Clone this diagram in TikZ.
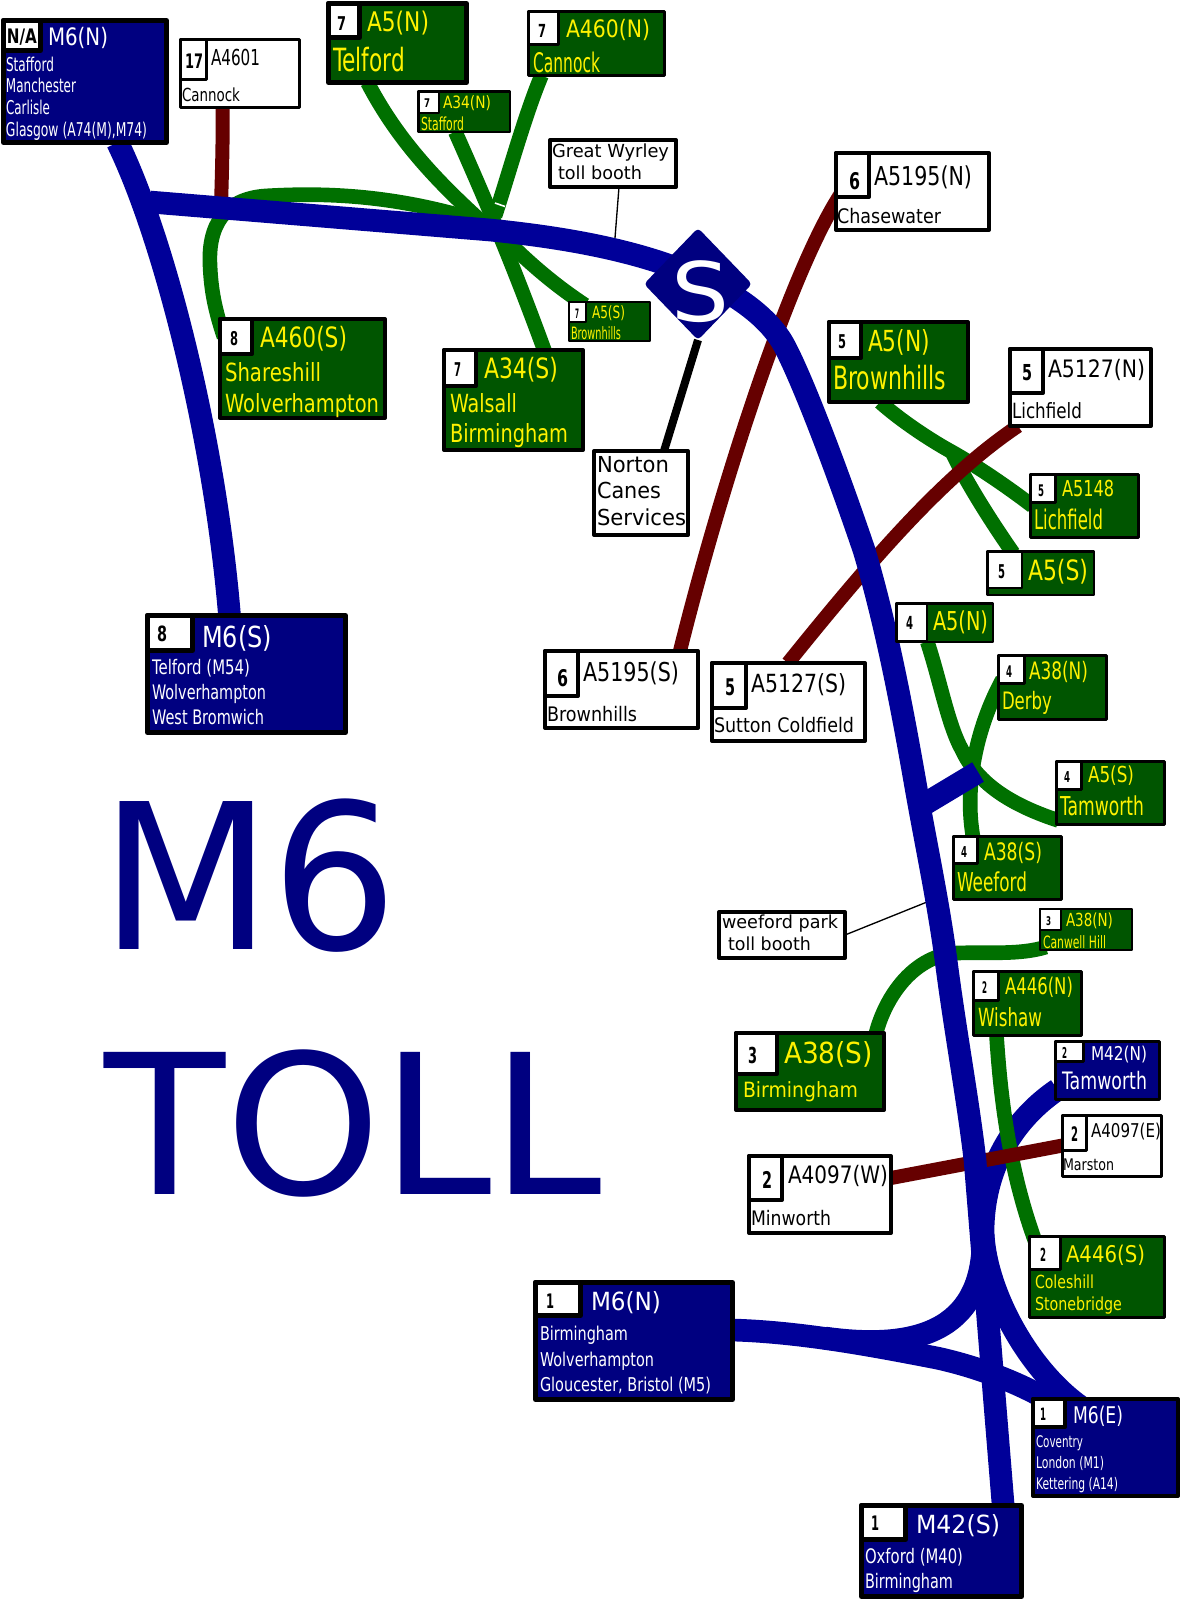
\documentclass[tikz,border=0pt]{standalone}
\usepackage{fontspec}
\usepackage{graphicx}
\setmainfont{DejaVu Sans}
\usetikzlibrary{shapes.geometric}
\pgfdeclarelayer{bg}
\pgfsetlayers{bg,main}
\definecolor{mblue}{HTML}{000080}
\definecolor{rblue}{HTML}{000099}
\definecolor{mgreen}{HTML}{005500}
\definecolor{rgreen}{HTML}{007000}
\definecolor{rbrown}{HTML}{660000}
\newdimen\pxu \pxu=.75pt
\newcounter{tc}
\tikzset{
  lbl/.style={anchor=base west,inner sep=0pt,outer sep=0pt},
  signbox/.style={anchor=north west,inner sep=0pt,outer sep=0pt,draw=black,line join=round},
  motorway/.style={line width=17pt,draw=rblue},
  aroad/.style={line width=11pt,draw=rgreen},
  broad/.style={line width=10.5pt,draw=rbrown},
  leader/.style={line width=1pt,draw=black}
}
\newcommand\T[6]{\stepcounter{tc}\pgfmathsetmacro\fs{#3*.75}\node[lbl,text=#5] (t\arabic{tc}) at (#1,#2) {\fontsize{\fs}{\fs}\selectfont\resizebox{#4\pxu}{\height}{#6}};}
\newcommand\N[5]{\T{#1}{#2}{#3}{#4}{black}{\bfseries #5}}
\newcommand\Sign[9]{\pgfmathsetmacro\bw{#7}%
  \node[signbox,fill=#6,line width=\bw*.75pt,minimum width={(#4-#2-\bw)*.75pt},minimum height={(#5-#3-\bw)*.75pt}] (#1) at ({#2+\bw/2},{#3+\bw/2}) {};
  \node[signbox,fill=white,line width=\bw*.75pt,minimum width={(#8-#2-\bw)*.75pt},minimum height={(#9-#3-\bw)*.75pt}] (#1-n) at ({#2+\bw/2},{#3+\bw/2}) {};}
\newcommand\Plain[6]{\pgfmathsetmacro\bw{#6}%
  \node[signbox,fill=white,line width=\bw*.75pt,minimum width={(#4-#2-\bw)*.75pt},minimum height={(#5-#3-\bw)*.75pt}] (#1) at ({#2+\bw/2},{#3+\bw/2}) {};}
\begin{document}
\begin{tikzpicture}[x=.75pt,y=-.75pt]
\useasboundingbox (0,0) rectangle (1180,1600);

% ---- signs ----
\Sign{sMsixN}{1}{18}{169}{145}{mblue}{5}{43}{53}
\Sign{sAfoursix}{179}{38}{301}{109}{white}{3}{208}{81}
\Sign{sTelford}{326}{1}{469}{85}{mgreen}{5}{362}{40}
\Sign{sCannock}{527}{10}{666}{77}{mgreen}{3}{560}{46}
\Sign{sStafford}{417}{90}{511}{133}{mgreen}{2.5}{440}{114}
\Plain{sWyrley}{548}{138}{678}{189}{4}
\Sign{sShare}{218}{317}{387}{420}{mgreen}{4}{254}{356}
\Sign{sWalsall}{442}{348}{585}{452}{mgreen}{4}{478}{388}
\Sign{sBrownS}{568}{301}{651}{342}{mgreen}{2}{587}{323}
\Sign{sChaseN}{834}{151}{991}{232}{white}{4}{871}{199}
\Sign{sBrownN}{827}{320}{970}{404}{mgreen}{4}{863}{360}
\Sign{sLichN}{1008}{347}{1153}{428}{white}{4}{1045}{395}
\Sign{sLichG}{1029}{473}{1140}{539}{mgreen}{3}{1057}{504}
\Sign{sAfiveS}{986}{550}{1095}{596}{mgreen}{2.5}{1023}{589}
\Sign{sFourA}{895}{602}{994}{643}{mgreen}{2.5}{928}{642}
\Sign{sDerby}{997}{654}{1108}{721}{mgreen}{3}{1026}{685}
\Sign{sTam}{1055}{760}{1166}{826}{mgreen}{3}{1083}{791}
\Sign{sSutton}{710}{661}{867}{743}{white}{4}{748}{710}
\Sign{sChaseS}{543}{649}{700}{730}{white}{4}{580}{698}
\Plain{sNorton}{592}{449}{690}{537}{4}
\Sign{sMsixS}{145}{613}{348}{735}{mblue}{5}{195}{653}
\Sign{sWeeford}{952}{835}{1063}{901}{mgreen}{3}{979}{865}
\Plain{sPark}{717}{910}{847}{960}{4}
\Sign{sCanwell}{1039}{908}{1133}{951}{mgreen}{2}{1062}{931}
\Sign{sWishaw}{972}{970}{1083}{1037}{mgreen}{3}{1000}{1002}
\Sign{sMftwoN}{1054}{1040}{1161}{1101}{mblue}{3}{1085}{1063}
\Sign{sBham}{734}{1031}{886}{1112}{mgreen}{4}{779}{1076}
\Sign{sMarston}{1061}{1114}{1163}{1178}{white}{3}{1088}{1152}
\Sign{sMinworth}{747}{1154}{893}{1235}{white}{4}{784}{1202}
\Sign{sColes}{1028}{1235}{1166}{1319}{mgreen}{3}{1062}{1271}
\Sign{sMsixB}{533}{1280}{735}{1402}{mblue}{5}{583}{1318}
\Sign{sMsixE}{1031}{1397}{1180}{1498}{mblue}{4}{1067}{1429}
\Sign{sMftwoS}{859}{1503}{1024}{1599}{mblue}{5}{908}{1542}

% ---- junction diamond ----
\node[diamond,aspect=.965,fill=mblue,inner sep=0pt,outer sep=0pt,minimum width=81pt,minimum height=84pt,rounded corners=3pt] (dia) at (698,284) {};
\T{671}{321}{82}{58}{white}{S}

% ---- named free ends ----
\coordinate (jviii) at (150,202);
\coordinate (hub) at (482,222);
\coordinate (hubs) at (495,228);
\coordinate (hubn) at (495,216);
\coordinate (jfive) at (952,452);
\coordinate (joinA) at (825,1338);
\coordinate (joinB) at (983,1235);
\coordinate (stubA) at (918,808);
\coordinate (stubB) at (978,772);
\coordinate (boothA) at (615,238);
\coordinate (boothB) at (927,902);
\coordinate (sliverA) at (495,203);
\coordinate (sliverB) at (505,206.5);

\begin{pgfonlayer}{bg}
% motorway branches below the green roads
\draw[motorway] ([shift={(2,19)}]sMftwoN.west) .. controls (1020,1115) and (984,1160) .. (983,1230) .. controls (984,1290) and (1030,1375) .. ([shift={(54,12)}]sMsixE.north west);
\draw[motorway] ([shift={(0,-11)}]sMsixB.east) .. controls (800,1332) and (870,1345) .. (937,1358) .. controls (965,1364) and (1020,1380) .. ([shift={(31,11)}]sMsixE.north west);
\draw[motorway] (joinA) .. controls (925,1352) and (985,1325) .. (joinB);
% green
\draw[aroad] ([shift={(39,0)}]sTelford.south west) .. controls (395,135) and (430,175) .. (hub);
\draw[aroad] ([shift={(37,0)}]sStafford.south west) .. controls (490,210) and (515,270) .. ([shift={(101,2)}]sWalsall.north west);
\draw[aroad] ([shift={(13,0)}]sCannock.south west) .. controls (525,115) and (510,170) .. (hubn);
\draw[aroad] (hub) .. controls (400,196) and (330,192) .. (265,196) .. controls (225,199) and (208,225) .. (210,265) .. controls (211,290) and (215,310) .. ([shift={(4,18)}]sShare.north west);
\draw[aroad] (hubs) .. controls (520,255) and (550,282) .. ([shift={(16,3)}]sBrownS.north west);
\draw[aroad] ([shift={(51,0)}]sBrownN.south west) .. controls (900,420) and (930,440) .. (jfive) .. controls (975,465) and (1005,485) .. ([shift={(2,0)}]sLichG.west);
\draw[aroad] (jfive) .. controls (965,480) and (990,520) .. ([shift={(26,2)}]sAfiveS.north west);
\draw[aroad] ([shift={(31,0)}]sFourA.south west) .. controls (940,680) and (948,725) .. (962,750) .. controls (976,780) and (1005,803) .. ([shift={(2,-4)}]sTam.south west);
\draw[aroad] ([shift={(4,-8)}]sDerby.west) .. controls (975,730) and (964,790) .. ([shift={(20,3)}]sWeeford.north west);
\draw[aroad] ([shift={(6,-3)}]sCanwell.south west) .. controls (1020,955) and (990,952) .. (957,953) .. controls (915,955) and (885,995) .. ([shift={(139,4)}]sBham.north west);
\draw[aroad] ([shift={(23,0)}]sWishaw.south west) .. controls (1000,1090) and (1008,1170) .. ([shift={(8,11)}]sColes.north west);
\draw[white,line width=1.2pt] (sliverA) -- (sliverB);
% brown
\draw[broad] ([shift={(42,0)}]sAfoursix.south west) .. controls (223,140) and (222,170) .. (221,207);
\draw[broad] ([shift={(6,-38)}]sChaseN.south west) .. controls (790,270) and (720,490) .. ([shift={(135,0)}]sChaseS.north west);
\draw[broad] ([shift={(8,0)}]sLichN.south west) .. controls (945,475) and (875,555) .. ([shift={(76,0)}]sSutton.north west);
\draw[broad] ([shift={(0,22)}]sMinworth.north east) -- ([shift={(0,30)}]sMarston.north west);
% leaders and services
\draw[leader] ([shift={(69,0)}]sWyrley.south west) -- (boothA);
\draw[leader] (sPark.east) -- (boothB);
\draw[line width=6pt,draw=black] (dia.south) -- ([shift={(70,0)}]sNorton.north west);
% main line
\draw[motorway] ([shift={(114,0)}]sMsixN.south west) .. controls (165,240) and (215,440) .. ([shift={(-17,0)}]sMsixS.north);
\draw[motorway] (jviii) -- (490,230) .. controls (560,237) and (640,250) .. (700,278) .. controls (735,294) and (765,315) .. (781,340) .. controls (795,362) and (830,450) .. (864,550) .. controls (888,630) and (905,725) .. (915,782) .. controls (925,840) and (938,900) .. (946,960) .. controls (955,1030) and (968,1100) .. (975,1160) -- ([shift={(62,4)}]sMftwoS.north);
\draw[motorway] (stubA) -- (stubB);
\end{pgfonlayer}

% ---- texts ----
\N{7}{43}{20}{30}{N/A}
\T{48}{45}{24}{60}{white}{M6(N)}
\T{6}{71}{19}{48}{white}{Stafford}
\T{6}{92}{19}{70}{white}{Manchester}
\T{6}{114}{19}{44}{white}{Carlisle}
\T{6}{136}{19}{141}{white}{Glasgow (A74(M),M74)}
\N{185}{68}{20}{18}{17}
\T{211}{65}{22}{49}{black}{A4601}
\T{182}{101}{18}{58}{black}{Cannock}
\N{337}{30}{19}{9}{7}
\T{367}{31}{27}{62}{yellow}{A5(N)}
\T{333}{71}{32}{72}{yellow}{Telford}
\N{538}{37}{18}{8}{7}
\T{566}{37}{24}{84}{yellow}{A460(N)}
\T{533}{72}{27}{67}{yellow}{Cannock}
\N{424}{107}{12}{6}{7}
\T{443}{108}{17}{48}{yellow}{A34(N)}
\T{421}{130}{18}{43}{yellow}{Stafford}
\T{552}{157}{18}{117}{black}{Great Wyrley}
\T{558}{179}{18}{84}{black}{toll booth}
\N{230}{345}{19}{8}{8}
\T{260}{347}{28}{87}{yellow}{A460(S)}
\T{225}{381}{25}{96}{yellow}{Shareshill}
\T{225}{412}{25}{154}{yellow}{Wolverhampton}
\N{454}{376}{19}{7}{7}
\T{484}{378}{28}{74}{yellow}{A34(S)}
\T{450}{412}{25}{67}{yellow}{Walsall}
\T{450}{442}{25}{118}{yellow}{Birmingham}
\N{575}{318}{13}{4}{7}
\T{592}{318}{17}{33}{yellow}{A5(S)}
\T{571}{339}{17}{50}{yellow}{Brownhills}
\N{849}{189}{23}{11}{6}
\T{874}{185}{26}{98}{black}{A5195(N)}
\T{837}{223}{20}{104}{black}{Chasewater}
\N{838}{348}{19}{8}{5}
\T{868}{351}{29}{62}{yellow}{A5(N)}
\T{833}{389}{32}{113}{yellow}{Brownhills}
\N{1022}{380}{22}{10}{5}
\T{1048}{377}{24}{97}{black}{A5127(N)}
\T{1012}{418}{21}{70}{black}{Lichfield}
\N{1038}{496}{16}{6}{5}
\T{1062}{496}{22}{52}{yellow}{A5148}
\T{1034}{529}{27}{69}{yellow}{Lichfield}
\N{998}{578}{19}{7}{5}
\T{1028}{580}{28}{60}{yellow}{A5(S)}
\N{906}{629}{18}{7}{4}
\T{933}{630}{26}{55}{yellow}{A5(N)}
\N{1006}{677}{16}{6}{4}
\T{1029}{679}{24}{59}{yellow}{A38(N)}
\T{1002}{709}{24}{50}{yellow}{Derby}
\N{1064}{782}{15}{6}{4}
\T{1088}{782}{22}{46}{yellow}{A5(S)}
\T{1060}{815}{26}{84}{yellow}{Tamworth}
\N{725}{695}{23}{10}{5}
\T{751}{692}{25}{95}{black}{A5127(S)}
\T{714}{732}{20}{140}{black}{Sutton Coldfield}
\N{557}{686}{23}{11}{6}
\T{583}{681}{26}{96}{black}{A5195(S)}
\T{547}{721}{20}{90}{black}{Brownhills}
\T{597}{472}{22}{72}{black}{Norton}
\T{597}{498}{22}{64}{black}{Canes}
\T{597}{525}{22}{89}{black}{Services}
\N{157}{641}{21}{10}{8}
\T{202}{647}{29}{70}{white}{M6(S)}
\T{152}{674}{20}{98}{white}{Telford (M54)}
\T{152}{699}{20}{114}{white}{Wolverhampton}
\T{152}{724}{20}{112}{white}{West Bromwich}
\N{961}{857}{15}{6}{4}
\T{984}{860}{24}{58}{yellow}{A38(S)}
\T{957}{891}{26}{70}{yellow}{Weeford}
\T{722}{928}{18}{116}{black}{weeford park}
\T{728}{950}{18}{83}{black}{toll booth}
\N{1046}{925}{12}{5}{3}
\T{1066}{926}{18}{47}{yellow}{A38(N)}
\T{1043}{948}{17}{63}{yellow}{Canwell Hill}
\N{982}{993}{16}{5}{2}
\T{1005}{994}{23}{68}{yellow}{A446(N)}
\T{978}{1026}{25}{64}{yellow}{Wishaw}
\N{1062}{1058}{15}{5}{2}
\T{1091}{1060}{19}{56}{white}{M42(N)}
\T{1062}{1089}{24}{85}{white}{Tamworth}
\N{748}{1063}{22}{9}{3}
\T{784}{1063}{29}{89}{yellow}{A38(S)}
\T{743}{1097}{21}{115}{yellow}{Birmingham}
\N{1071}{1141}{20}{7}{2}
\T{1091}{1137}{19}{70}{black}{A4097(E)}
\T{1063}{1170}{16}{51}{black}{Marston}
\N{762}{1188}{23}{10}{2}
\T{788}{1183}{24}{100}{black}{A4097(W)}
\T{751}{1225}{20}{80}{black}{Minworth}
\N{1040}{1261}{18}{6}{2}
\T{1066}{1262}{23}{79}{yellow}{A446(S)}
\T{1035}{1288}{18}{59}{yellow}{Coleshill}
\T{1035}{1310}{18}{87}{yellow}{Stonebridge}
\N{546}{1308}{20}{8}{1}
\T{591}{1310}{25}{70}{white}{M6(N)}
\T{540}{1340}{19}{88}{white}{Birmingham}
\T{540}{1366}{19}{114}{white}{Wolverhampton}
\T{540}{1391}{19}{171}{white}{Gloucester, Bristol (M5)}
\N{1040}{1420}{17}{6}{1}
\T{1073}{1423}{23}{50}{white}{M6(E)}
\T{1036}{1447}{16}{47}{white}{Coventry}
\T{1036}{1468}{16}{68}{white}{London (M1)}
\T{1036}{1489}{16}{82}{white}{Kettering (A14)}
\N{871}{1530}{20}{8}{1}
\T{916}{1533}{25}{84}{white}{M42(S)}
\T{865}{1563}{20}{98}{white}{Oxford (M40)}
\T{865}{1588}{20}{88}{white}{Birmingham}
\T{100}{949}{203}{298}{mblue}{M6}
\T{104}{1194}{195}{498}{mblue}{TOLL}
\end{tikzpicture}
\end{document}
